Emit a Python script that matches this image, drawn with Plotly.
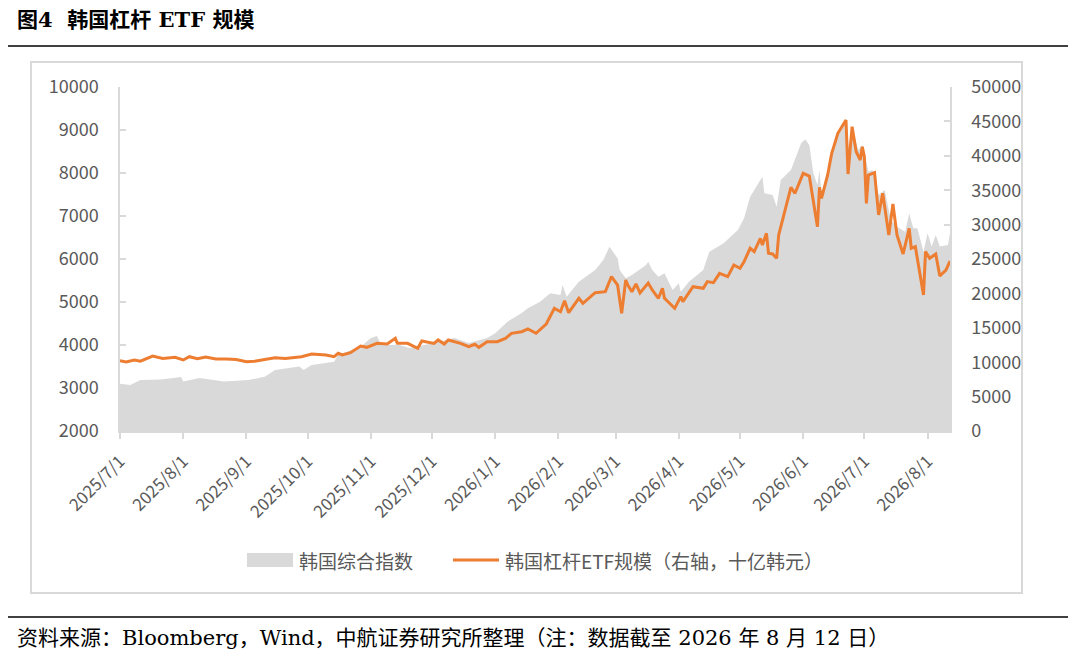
import plotly.graph_objects as go

# ── data ─────────────────────────────────────────────────────────────────────
kospi_dates = [
    "2025-07-01", "2025-07-06", "2025-07-11", "2025-07-21", "2025-07-31",
    "2025-08-01", "2025-08-09", "2025-08-21", "2025-09-02", "2025-09-10",
    "2025-09-15", "2025-09-27", "2025-09-29", "2025-10-03", "2025-10-14",
    "2025-10-16", "2025-10-27", "2025-11-01", "2025-11-04", "2025-11-06",
    "2025-11-15", "2025-11-20", "2025-12-02", "2025-12-12", "2025-12-19",
    "2025-12-24", "2025-12-28", "2026-01-01", "2026-01-04", "2026-01-07",
    "2026-01-10", "2026-01-14", "2026-01-17", "2026-01-23", "2026-01-28",
    "2026-02-02", "2026-02-03", "2026-02-05", "2026-02-11", "2026-02-19",
    "2026-02-23", "2026-02-26", "2026-03-02", "2026-03-03", "2026-03-06",
    "2026-03-09", "2026-03-16", "2026-03-17", "2026-03-19", "2026-03-22",
    "2026-03-25", "2026-03-29", "2026-04-01", "2026-04-02", "2026-04-06",
    "2026-04-13", "2026-04-16", "2026-04-23", "2026-04-30", "2026-05-03",
    "2026-05-06", "2026-05-10", "2026-05-12", "2026-05-13", "2026-05-17",
    "2026-05-19", "2026-05-21", "2026-05-26", "2026-05-28", "2026-05-31",
    "2026-06-02", "2026-06-04", "2026-06-06", "2026-06-08", "2026-06-09",
    "2026-06-10", "2026-06-13", "2026-06-18", "2026-06-22", "2026-06-24",
    "2026-06-25", "2026-06-28", "2026-06-30", "2026-07-03", "2026-07-05",
    "2026-07-08", "2026-07-11", "2026-07-14", "2026-07-17", "2026-07-21",
    "2026-07-23", "2026-07-25", "2026-07-27", "2026-07-30", "2026-08-01",
    "2026-08-03", "2026-08-05", "2026-08-07", "2026-08-11", "2026-08-12",
]
kospi_values = [
    3100, 3070, 3186, 3200, 3256,
    3150, 3230, 3150, 3186, 3263,
    3419, 3500, 3419, 3535, 3612,
    3767, 3961, 4163, 4210, 4000,
    4000, 3930, 4047, 4163, 4047,
    4116, 4160, 4272, 4420, 4543,
    4628, 4744, 4854, 5008, 5202,
    5163, 5396, 5124, 5473, 5745,
    5977, 6287, 6016, 5745, 5551,
    5628, 5861, 5938, 5745, 5589,
    5667, 5280, 5435, 5241, 5473,
    5745, 6171, 6365, 6675, 6950,
    7450, 7761, 7915, 7528, 7490,
    7217, 7838, 8071, 8303, 8691,
    8784, 8652, 7993, 7721, 8071,
    7450, 7993, 8924, 9234, 8303,
    9040, 8536, 8652, 8032, 8071,
    7490, 7606, 6908, 6752, 6636,
    7063, 6714, 6714, 6171, 6598,
    6288, 6559, 6288, 6326, 6598,
]

etf_dates = [
    "2025-07-01", "2025-07-04", "2025-07-08", "2025-07-11", "2025-07-17",
    "2025-07-22", "2025-07-28", "2025-08-01", "2025-08-04", "2025-08-08",
    "2025-08-12", "2025-08-17", "2025-08-22", "2025-08-27", "2025-09-01",
    "2025-09-05", "2025-09-10", "2025-09-15", "2025-09-20", "2025-09-28",
    "2025-10-03", "2025-10-10", "2025-10-14", "2025-10-16", "2025-10-18",
    "2025-10-22", "2025-10-27", "2025-10-30", "2025-11-04", "2025-11-09",
    "2025-11-13", "2025-11-14", "2025-11-19", "2025-11-24", "2025-11-26",
    "2025-12-02", "2025-12-04", "2025-12-07", "2025-12-09", "2025-12-15",
    "2025-12-19", "2025-12-22", "2025-12-24", "2025-12-28", "2026-01-02",
    "2026-01-06", "2026-01-09", "2026-01-14", "2026-01-17", "2026-01-21",
    "2026-01-26", "2026-01-30", "2026-02-02", "2026-02-04", "2026-02-06",
    "2026-02-10", "2026-02-11", "2026-02-13", "2026-02-19", "2026-02-24",
    "2026-02-27", "2026-03-02", "2026-03-04", "2026-03-06", "2026-03-07",
    "2026-03-09", "2026-03-11", "2026-03-13", "2026-03-17", "2026-03-19",
    "2026-03-22", "2026-03-24", "2026-03-25", "2026-03-30", "2026-04-02",
    "2026-04-03", "2026-04-08", "2026-04-13", "2026-04-15", "2026-04-18",
    "2026-04-21", "2026-04-25", "2026-04-28", "2026-05-01", "2026-05-03",
    "2026-05-06", "2026-05-08", "2026-05-11", "2026-05-12", "2026-05-14",
    "2026-05-15", "2026-05-17", "2026-05-19", "2026-05-20", "2026-05-23",
    "2026-05-26", "2026-05-28", "2026-06-01", "2026-06-04", "2026-06-08",
    "2026-06-09", "2026-06-10", "2026-06-13", "2026-06-15", "2026-06-18",
    "2026-06-22", "2026-06-23", "2026-06-25", "2026-06-27", "2026-06-29",
    "2026-06-30", "2026-07-01", "2026-07-02", "2026-07-03", "2026-07-06",
    "2026-07-08", "2026-07-10", "2026-07-13", "2026-07-15", "2026-07-17",
    "2026-07-20", "2026-07-23", "2026-07-24", "2026-07-26", "2026-07-30",
    "2026-07-31", "2026-08-02", "2026-08-05", "2026-08-07", "2026-08-10",
    "2026-08-12",
]
etf_values = [
    10200, 10050, 10300, 10150, 10900,
    10550, 10700, 10320, 10800, 10500,
    10750, 10460, 10450, 10400, 10080,
    10150, 10400, 10660, 10550, 10800,
    11190, 11050, 10800, 11290, 11050,
    11380, 12350, 12160, 12740, 12640,
    13470, 12740, 12740, 12020, 13080,
    12740, 13230, 12640, 13230, 12740,
    12250, 12600, 12160, 12980, 12980,
    13470, 14200, 14430, 14830, 14200,
    15550, 17830, 17340, 18940, 17200,
    18800, 19290, 18560, 20100, 20250,
    22430, 21220, 17100, 21950, 21220,
    20250, 21370, 20060, 21510, 20500,
    19290, 20740, 19290, 17830, 19530,
    18800, 20980, 20740, 21710, 21560,
    22920, 22430, 24130, 23650, 24610,
    26560, 26070, 28000, 27040, 28730,
    25830, 25730, 25100, 28490, 32120,
    35420, 34550, 37450, 37060, 29690,
    35420, 33820, 37210, 40360, 43270,
    45200, 37350, 44230, 40600, 39390,
    41320, 39870, 33090, 37210, 37550,
    31400, 34550, 28490, 32990, 28490,
    25730, 29450, 26560, 26800, 19770,
    26070, 25100, 25730, 22530, 23400,
    24700,
]

month_ticks = [
    "2025-07-01", "2025-08-01", "2025-09-01", "2025-10-01", "2025-11-01",
    "2025-12-01", "2026-01-01", "2026-02-01", "2026-03-01", "2026-04-01",
    "2026-05-01", "2026-06-01", "2026-07-01", "2026-08-01",
]
month_labels = [
    "2025/7/1", "2025/8/1", "2025/9/1", "2025/10/1", "2025/11/1",
    "2025/12/1", "2026/1/1", "2026/2/1", "2026/3/1", "2026/4/1",
    "2026/5/1", "2026/6/1", "2026/7/1", "2026/8/1",
]

kospi_name = "韩国综合指数"
etf_name = "韩国杠杆ETF规模（右轴，十亿韩元）"

# ── figure ────────────────────────────────────────────────────────────────────
W, H = 1080, 658
PAGE_PAD = 8  # default body margin of the html page
GRAY = "#D9D9D9"
ORANGE = "#ED7D31"
TXT = "#595959"
SANS = "Noto Sans CJK SC, Noto Sans, sans-serif"
SERIF = "DejaVu Serif, Noto Sans CJK SC, serif"


def px_x(x):
    return (x - PAGE_PAD) / W


def px_y(y):
    return 1 - (y - PAGE_PAD) / H


fig = go.Figure()

fig.add_trace(go.Scatter(
    x=kospi_dates, y=kospi_values,
    name=kospi_name,
    mode="lines", line=dict(width=0, color=GRAY),
    fill="tozeroy", fillcolor=GRAY,
    yaxis="y",
))
fig.add_trace(go.Scatter(
    x=etf_dates, y=etf_values,
    name=etf_name,
    mode="lines", line=dict(width=3, color=ORANGE),
    yaxis="y2",
))

axis_common = dict(
    showgrid=False, zeroline=False, showline=True,
    linecolor=GRAY, linewidth=1.5, tickcolor=GRAY, tickwidth=1.5,
    automargin=False,
)

fig.update_layout(
    width=W, height=H,
    margin=dict(l=0, r=0, t=0, b=0),
    paper_bgcolor="white", plot_bgcolor="white",
    showlegend=False,
    xaxis=dict(
        type="date",
        domain=[px_x(120), px_x(950)],
        range=["2025-07-01", "2026-08-12"],
        tickmode="array", tickvals=month_ticks, ticktext=month_labels,
        tickangle=-45, ticks="outside", ticklen=6,
        ticklabelstandoff=6,
        tickfont=dict(family=SANS, size=17, color=TXT),
        **axis_common,
    ),
    yaxis=dict(
        domain=[px_y(431), px_y(87)],
        range=[2000, 10000], dtick=1000, tickformat="d",
        ticks="inside", ticklen=6, ticklabelstandoff=16,
        tickfont=dict(family=SANS, size=18, color=TXT),
        **axis_common,
    ),
    yaxis2=dict(
        overlaying="y", side="right", anchor="x",
        range=[0, 50000], dtick=5000, tickformat="d",
        ticks="inside", ticklen=6, ticklabelstandoff=16,
        tickfont=dict(family=SANS, size=18, color=TXT),
        **axis_common,
    ),
)

# chart frame, rules
fig.add_shape(type="rect", xref="paper", yref="paper",
              x0=px_x(31), x1=px_x(1022), y0=px_y(593), y1=px_y(62),
              line=dict(color=GRAY, width=2), layer="below")
fig.add_shape(type="line", xref="paper", yref="paper",
              x0=px_x(0), x1=px_x(1068), y0=px_y(46), y1=px_y(46),
              line=dict(color="black", width=1.5))
fig.add_shape(type="line", xref="paper", yref="paper",
              x0=px_x(0), x1=px_x(1068), y0=px_y(617), y1=px_y(617),
              line=dict(color="black", width=1.5))

# legend (Excel style: wide swatch + long line)
fig.add_shape(type="rect", xref="paper", yref="paper",
              x0=px_x(247), x1=px_x(293), y0=px_y(567), y1=px_y(553),
              fillcolor=GRAY, line=dict(width=0))
fig.add_annotation(xref="paper", yref="paper", x=px_x(297), y=px_y(560),
                   xanchor="left", yanchor="middle", showarrow=False,
                   text=kospi_name, font=dict(family=SANS, size=19, color=TXT))
fig.add_shape(type="line", xref="paper", yref="paper",
              x0=px_x(453), x1=px_x(499), y0=px_y(560), y1=px_y(560),
              line=dict(color=ORANGE, width=3))
fig.add_annotation(xref="paper", yref="paper", x=px_x(503), y=px_y(560),
                   xanchor="left", yanchor="middle", showarrow=False,
                   text=etf_name, font=dict(family=SANS, size=19, color=TXT))

# title and source note
fig.add_annotation(
    xref="paper", yref="paper", x=px_x(15), y=px_y(19),
    xanchor="left", yanchor="middle", showarrow=False,
    text="<b>图4  韩国杠杆 ETF 规模</b>",
    font=dict(family=SERIF, size=21, color="black"),
)
fig.add_annotation(
    xref="paper", yref="paper", x=px_x(15), y=px_y(638),
    xanchor="left", yanchor="middle", showarrow=False,
    text="资料来源：Bloomberg，Wind，中航证券研究所整理（注：数据截至 2026 年 8 月 12 日）",
    font=dict(family=SERIF, size=21, color="black"),
)

fig.write_html("out.html")
